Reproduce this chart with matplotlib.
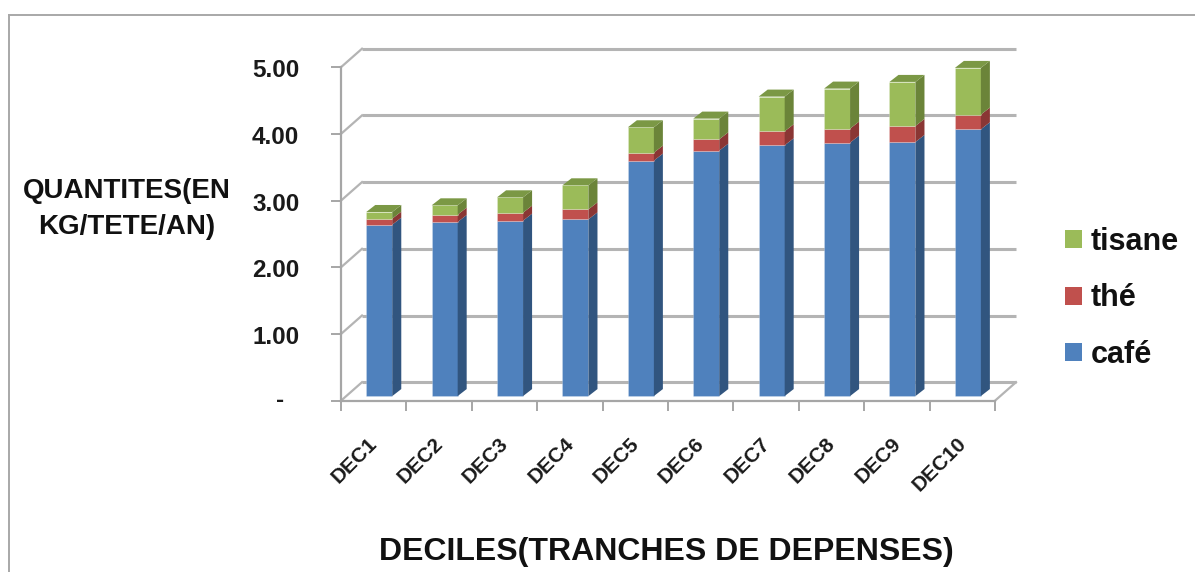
import matplotlib
matplotlib.use("Agg")
import matplotlib.pyplot as plt
import numpy as np
from matplotlib.lines import Line2D
from matplotlib.patches import Polygon, Patch
from matplotlib.transforms import ScaledTranslation

plt.rcParams['font.family'] = ['Liberation Sans', 'DejaVu Sans']

categories = ["DEC1", "DEC2", "DEC3", "DEC4", "DEC5", "DEC6", "DEC7", "DEC8", "DEC9", "DEC10"]
cafe = [2.57, 2.61, 2.63, 2.65, 3.53, 3.68, 3.76, 3.80, 3.81, 4.00]
the = [0.09, 0.11, 0.12, 0.15, 0.12, 0.17, 0.21, 0.21, 0.24, 0.22]
tisane = [0.10, 0.14, 0.23, 0.36, 0.38, 0.31, 0.52, 0.60, 0.66, 0.70]
y_ticks = [0, 1, 2, 3, 4, 5]
y_labels = ["-", "1.00", "2.00", "3.00", "4.00", "5.00"]
series_names = ["café", "thé", "tisane"]
front_colors = ["#4f81bd", "#c0504d", "#9bbb59"]
side_colors = ["#31557f", "#8a3634", "#6b8439"]
top_colors = ["#41699b", "#a03f3c", "#7b9845"]

W, H = 1195, 572
fig = plt.figure(figsize=(W / 100, H / 100), dpi=100, facecolor="white")
L, R, B, T = 341, 995, 400.7, 67.2
ax = fig.add_axes([L / W, 1 - B / H, (R - L) / W, (B - T) / H])
ax.set_xlim(0, len(categories))
ax.set_ylim(0, 5)
ax.patch.set_visible(False)

# oblique depth of the chart box, in data units
DX, DY = 21 / 65.4, 18.5 / 66.7
GRID = "#b4b4b4"
FRONT = "#a6a6a6"
n = len(categories)
for v in y_ticks:
    ax.plot([DX, n + DX], [v + DY, v + DY], color=GRID, lw=2.2, zorder=1, clip_on=False, solid_capstyle="butt")
    ax.plot([0, DX], [v, v + DY], color=GRID, lw=1.6, zorder=1, clip_on=False)
ax.plot([n, n + DX], [0, DY], color=GRID, lw=1.6, zorder=1, clip_on=False)

# bars
width = 26 / 65.4
bx, by = 0.25 * DX, 0.25 * DY
bar_dx, bar_dy = 9 / 65.4, 7 / 66.7
centers = np.arange(n) + 0.5 + bx + 0.005
bottoms = np.zeros(n)
stacks = [cafe, the, tisane]
for k, vals in enumerate(stacks):
    vals = np.array(vals)
    ax.bar(centers, vals, width, bottom=bottoms + by, color=front_colors[k],
           zorder=3 + 0.1 * k, clip_on=False, edgecolor="#ffffff40", linewidth=0.6)
    for c, b, h in zip(centers, bottoms + by, vals):
        xr = c + width / 2
        ax.add_patch(Polygon([(xr, b), (xr + bar_dx, b + bar_dy), (xr + bar_dx, b + h + bar_dy), (xr, b + h)],
                             closed=True, fc=side_colors[k], ec="none", zorder=3 + 0.1 * k, clip_on=False))
        if k == len(stacks) - 1:
            xl = c - width / 2
            ax.add_patch(Polygon([(xl, b + h), (xr, b + h), (xr + bar_dx, b + h + bar_dy), (xl + bar_dx, b + h + bar_dy)],
                                 closed=True, fc=top_colors[k], ec="none", zorder=3.5, clip_on=False))
    bottoms = bottoms + vals

# axes
for s in ("top", "right"):
    ax.spines[s].set_visible(False)
for s in ("left", "bottom"):
    ax.spines[s].set_color(FRONT)
    ax.spines[s].set_linewidth(1.6)
    ax.spines[s].set_zorder(2)
ax.set_yticks(y_ticks)
ax.set_yticklabels(y_labels, fontsize=17.5, fontweight="bold", color="#1a1a1a")
ax.tick_params(axis="y", length=7, width=1.4, color=FRONT, pad=23)
ax.set_xticks(np.arange(n + 1), minor=True)
ax.tick_params(axis="x", which="minor", length=7, width=1.4, color=FRONT)
ax.set_xticks(np.arange(n) + 0.5)
ax.set_xticklabels(categories, rotation=45, ha="right", va="top", rotation_mode="anchor",
                   fontsize=15, fontweight="bold", color="#1a1a1a")
ax.tick_params(axis="x", which="major", length=0, pad=24)
for lab in ax.get_yticklabels():
    if lab.get_text() == "-":
        off = ScaledTranslation(-15 / 100, 3 / 100, fig.dpi_scale_trans)
    else:
        off = ScaledTranslation(0, -1 / 100, fig.dpi_scale_trans)
    lab.set_transform(lab.get_transform() + off)
for lab in ax.get_xticklabels():
    lab.set_transform(lab.get_transform() + ScaledTranslation(-6 / 100, 0, fig.dpi_scale_trans))

# titles
fig.text(127 / W, 1 - 209 / H, "QUANTITES(EN\nKG/TETE/AN)", ha="center", va="center",
         fontsize=20, fontweight="bold", color="#111111", linespacing=1.46)
fig.text(666 / W, 1 - 552 / H, "DECILES(TRANCHES DE DEPENSES)", ha="center", va="center",
         fontsize=23, fontweight="bold", color="#111111")

# legend
handles = [Patch(fc=front_colors[i], ec="none", label=series_names[i]) for i in (2, 1, 0)]
fig.legend(handles=handles, loc="center left", bbox_to_anchor=(1065 / W, 1 - 298.5 / H),
           frameon=False, prop=dict(weight="bold", size=22),
           handlelength=0.54, handleheight=0.54, handletextpad=0.3, labelspacing=0.87,
           borderpad=0, borderaxespad=0, labelcolor="#111111")

# outer frame
fig.add_artist(Line2D([9 / W, 9 / W], [0, 1 - 15 / H], color="#a8a8a8", lw=1.4))
fig.add_artist(Line2D([9 / W, 1], [1 - 15 / H, 1 - 15 / H], color="#a8a8a8", lw=1.4))

fig.savefig("out.png", dpi=100)
